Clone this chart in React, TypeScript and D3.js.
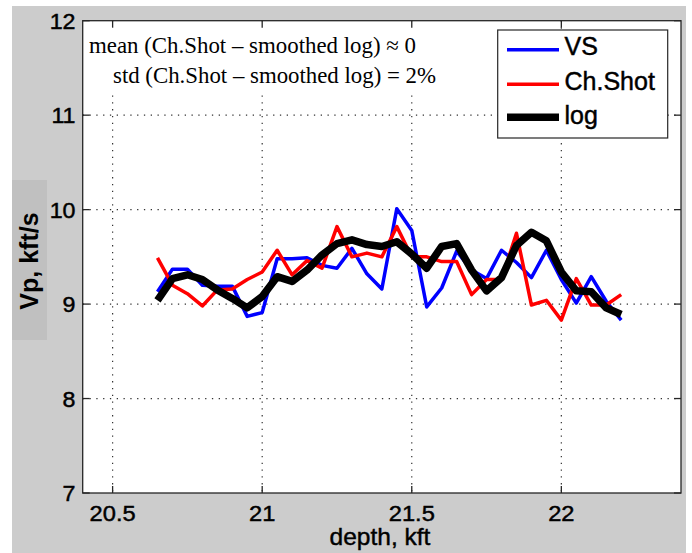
import React from "react";
import * as d3 from "d3";

const depth = [20.65, 20.7, 20.75, 20.8, 20.85, 20.9, 20.95, 21.0, 21.05, 21.1, 21.15, 21.2, 21.25, 21.3, 21.35, 21.4, 21.45, 21.5, 21.55, 21.6, 21.65, 21.7, 21.75, 21.8, 21.85, 21.9, 21.95, 22.0, 22.05, 22.1, 22.15, 22.2];
const vsValues = [9.13, 9.37, 9.37, 9.2, 9.19, 9.19, 8.87, 8.91, 9.48, 9.48, 9.49, 9.41, 9.38, 9.59, 9.32, 9.16, 10.01, 9.78, 8.97, 9.17, 9.56, 9.36, 9.27, 9.57, 9.44, 9.28, 9.57, 9.26, 9.01, 9.29, 9.03, 8.83];
const chShotValues = [9.49, 9.2, 9.11, 8.98, 9.15, 9.16, 9.26, 9.34, 9.57, 9.31, 9.46, 9.38, 9.82, 9.5, 9.54, 9.5, 9.82, 9.5, 9.5, 9.45, 9.45, 9.1, 9.26, 9.26, 9.75, 8.99, 9.04, 8.83, 9.27, 8.99, 8.99, 9.1];
const logValues = [9.04, 9.27, 9.31, 9.26, 9.15, 9.06, 8.96, 9.08, 9.29, 9.24, 9.36, 9.52, 9.64, 9.68, 9.63, 9.61, 9.66, 9.53, 9.38, 9.61, 9.64, 9.36, 9.14, 9.28, 9.62, 9.76, 9.67, 9.34, 9.14, 9.13, 8.96, 8.89];

const xTicks = [20.5, 21, 21.5, 22];
const yTicks = [7, 8, 9, 10, 11, 12];
const legendLabels = ["VS", "Ch.Shot", "log"];
const annotationLines = [
  "mean (Ch.Shot \u2013 smoothed log) \u2248 0",
  "std (Ch.Shot \u2013 smoothed log) = 2%",
];

const W = 692;
const H = 553;
const L = 82.7, R = 681, T = 20.7, B = 493;

export default function App() {
  const x = d3.scaleLinear().domain([20.4, 22.4]).range([L, R]);
  const y = d3.scaleLinear().domain([7, 12]).range([B, T]);
  const line = d3
    .line<number>()
    .x((_, i) => x(depth[i]))
    .y((v) => y(v));

  const series = [
    { name: legendLabels[0], values: vsValues, color: "#0000ff", width: 3.5 },
    { name: legendLabels[1], values: chShotValues, color: "#ff0000", width: 3.5 },
    { name: legendLabels[2], values: logValues, color: "#000000", width: 7.5 },
  ];

  const sans = "'Liberation Sans', Arial, Helvetica, sans-serif";
  const serif = "'Liberation Serif', 'Times New Roman', serif";
  const axisColor = "#262626";
  const tickLen = 7;

  const legendRows = [
    { ly: 49.7, ty: 55 },
    { ly: 84.3, ty: 90 },
    { ly: 117.2, ty: 123.5 },
  ];

  const thick = { stroke: "#000", strokeWidth: 0.45 } as const;

  return (
    <div style={{ position: "absolute", left: 0, top: 0 }}>
      <svg width={W} height={H} style={{ display: "block" }}>
        <rect x={0} y={0} width={W} height={H} fill="#ffffff" />
        <rect x={12} y={6} width={674} height={H - 6} fill="#cccccc" />
        <rect x={12} y={180} width={35} height={160} fill="#c0c0c0" />
        <rect x={L} y={T} width={R - L} height={B - T} fill="#ffffff" />

        {/* grid */}
        <g stroke="#333" strokeWidth={1.2} strokeDasharray="1.3,5.5">
          {xTicks.map((t) => (
            <line key={"gx" + t} x1={x(t)} x2={x(t)} y1={T} y2={B} />
          ))}
          {yTicks.slice(1, -1).map((t) => (
            <line key={"gy" + t} x1={L} x2={R} y1={y(t)} y2={y(t)} />
          ))}
        </g>

        {/* annotation box */}
        <rect x={L + 0.6} y={T + 0.6} width={372} height={73} fill="#ffffff" />
        <text x={89} y={53.3} fontFamily={serif} fontSize={22.5} textLength={327} lengthAdjust="spacingAndGlyphs" fill="#000">
          {annotationLines[0]}
        </text>
        <text x={113} y={83.3} fontFamily={serif} fontSize={22.5} textLength={323} lengthAdjust="spacingAndGlyphs" fill="#000">
          {annotationLines[1]}
        </text>

        {/* data */}
        {series.map((s) => (
          <path
            key={s.name}
            d={line(s.values) || ""}
            fill="none"
            stroke={s.color}
            strokeWidth={s.width}
            strokeLinejoin="round"
            strokeLinecap="butt"
          />
        ))}

        {/* axes box and ticks */}
        <rect x={L} y={T} width={R - L} height={B - T} fill="none" stroke={axisColor} strokeWidth={1.3} />
        <g stroke={axisColor} strokeWidth={1.3}>
          {xTicks.map((t) => (
            <g key={"tx" + t}>
              <line x1={x(t)} x2={x(t)} y1={B} y2={B - tickLen} />
              <line x1={x(t)} x2={x(t)} y1={T} y2={T + tickLen} />
            </g>
          ))}
          {yTicks.map((t) => (
            <g key={"ty" + t}>
              <line x1={L} x2={L + tickLen} y1={y(t)} y2={y(t)} />
              <line x1={R} x2={R - tickLen} y1={y(t)} y2={y(t)} />
            </g>
          ))}
        </g>

        {/* tick labels */}
        <g fontFamily={sans} fontSize={21.5} fill="#000" {...thick}>
          {xTicks.map((t) => (
            <text key={"lx" + t} transform={`translate(${x(t)},520.5) scale(1.1,1)`} textAnchor="middle">
              {String(t)}
            </text>
          ))}
          {yTicks.map((t) => (
            <text key={"ly" + t} transform={`translate(75.5,${y(t) + 8}) scale(1.08,1)`} textAnchor="end">
              {String(t)}
            </text>
          ))}
        </g>

        {/* axis labels */}
        <text x={380} y={545} textAnchor="middle" fontFamily={sans} fontSize={24.5} fill="#000" {...thick}>
          depth, kft
        </text>
        <text
          transform={`translate(37.5,261) rotate(-90)`}
          textAnchor="middle"
          fontFamily={sans}
          fontWeight="bold"
          fontSize={25}
          fill="#000"
        >
          Vp, kft/s
        </text>

        {/* legend */}
        <rect x={497.7} y={30} width={170} height={108} fill="#ffffff" stroke={axisColor} strokeWidth={1.2} />
        {series.map((s, i) => (
          <g key={"leg" + s.name}>
            <line x1={507} x2={559} y1={legendRows[i].ly} y2={legendRows[i].ly} stroke={s.color} strokeWidth={s.width} />
            <text x={564.5} y={legendRows[i].ty} fontFamily={sans} fontSize={25} fill="#000" {...thick}>
              {s.name}
            </text>
          </g>
        ))}
      </svg>
    </div>
  );
}
